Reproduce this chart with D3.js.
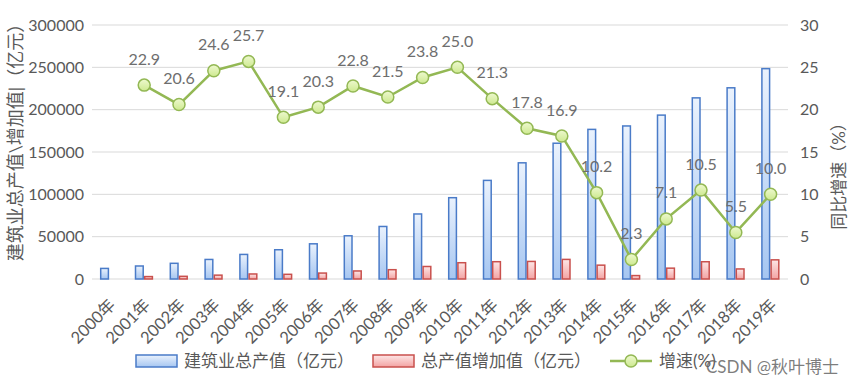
<!DOCTYPE html>
<html lang="zh">
<head>
<meta charset="UTF-8" />
<script src="https://d3js.org/d3.v7.min.js"></script>
<style>
  body { margin: 0; background: #fff; }
  text { font-family: Lato, "Noto Sans CJK SC", sans-serif; fill: #595959; }
</style>
</head>
<body>
<svg width="858" height="384"></svg>
<script>
const years = ["2000年","2001年","2002年","2003年","2004年","2005年","2006年","2007年","2008年","2009年",
  "2010年","2011年","2012年","2013年","2014年","2015年","2016年","2017年","2018年","2019年"];
const output = [12498,15362,18527,23084,29021,34552,41557,51044,62037,76808,
  96031,116463,137218,160366,176713,180757,193567,213944,225817,248443];
const increase = [null,2864,3165,4557,5937,5531,7005,9487,10993,14771,
  19223,20432,20755,23148,16347,4044,12810,20377,11873,22626];
const growth = [null,22.9,20.6,24.6,25.7,19.1,20.3,22.8,21.5,23.8,
  25.0,21.3,17.8,16.9,10.2,2.3,7.1,10.5,5.5,10.0];
const leftTicks = [0,50000,100000,150000,200000,250000,300000];
const rightTicks = [0,5,10,15,20,25,30];

const svg = d3.select("svg");
const pl = 92, pr = 788, pt = 25, pb = 279;

const x = d3.scaleBand().domain(years).range([pl, pr]);
const y = d3.scaleLinear().domain([0, 300000]).range([pb, pt]);
const y2 = d3.scaleLinear().domain([0, 30]).range([pb, pt]);
const bw = x.bandwidth() * 0.25;
const cx = d => x(d) + x.bandwidth() / 2;

const defs = svg.append("defs");
function grad(id, c1, c2) {
  const g = defs.append("linearGradient").attr("id", id)
    .attr("x1", 0).attr("y1", 0).attr("x2", 0).attr("y2", 1);
  g.append("stop").attr("offset", "0%").attr("stop-color", c1);
  g.append("stop").attr("offset", "100%").attr("stop-color", c2);
}
grad("gBlue", "#eaf2fd", "#a6c6f1");
grad("gRed", "#fde6e6", "#f3a3a3");
grad("gDot", "#eef9cf", "#cde98f");

// gridlines
svg.append("g").selectAll("line").data(leftTicks).join("line")
  .attr("x1", pl).attr("x2", pr)
  .attr("y1", d => y(d)).attr("y2", d => y(d))
  .attr("stroke", "#d9d9d9").attr("stroke-width", 1);

// left tick labels
svg.append("g").selectAll("text").data(leftTicks).join("text")
  .attr("x", 84).attr("y", d => y(d)).attr("dy", "0.35em")
  .attr("text-anchor", "end").attr("font-size", 16)
  .text(d => d);

// right tick labels
svg.append("g").selectAll("text").data(rightTicks).join("text")
  .attr("x", 800).attr("y", d => y2(d)).attr("dy", "0.35em")
  .attr("font-size", 16)
  .text(d => d);

// axis titles
svg.append("text")
  .attr("transform", "translate(16,138) rotate(-90)")
  .attr("text-anchor", "middle").attr("dy", "0.35em").attr("font-size", 18)
  .text("建筑业总产值\\增加值|（亿元）");
svg.append("text")
  .attr("transform", "translate(839,172) rotate(-90)")
  .attr("text-anchor", "middle").attr("dy", "0.35em").attr("font-size", 17)
  .text("同比增速（%）");

// bars
svg.append("g").selectAll("rect").data(years).join("rect")
  .attr("x", d => cx(d) - bw)
  .attr("y", (d, i) => y(output[i]))
  .attr("width", bw - 1)
  .attr("height", (d, i) => pb - y(output[i]))
  .attr("fill", "url(#gBlue)").attr("stroke", "#4a7bc8").attr("stroke-width", 1.5);

svg.append("g").selectAll("rect").data(years.filter((d, i) => increase[i] != null)).join("rect")
  .attr("x", d => cx(d) + 0.5)
  .attr("y", d => y(increase[years.indexOf(d)]))
  .attr("width", bw - 1)
  .attr("height", d => pb - y(increase[years.indexOf(d)]))
  .attr("fill", "url(#gRed)").attr("stroke", "#c9504d").attr("stroke-width", 1.5);

// growth line
const pts = years.map((d, i) => ({ year: d, v: growth[i] })).filter(p => p.v != null);
svg.append("path").datum(pts)
  .attr("fill", "none").attr("stroke", "#93b854").attr("stroke-width", 2.5)
  .attr("d", d3.line().x(p => cx(p.year)).y(p => y2(p.v)));
svg.append("g").selectAll("circle").data(pts).join("circle")
  .attr("cx", p => cx(p.year)).attr("cy", p => y2(p.v)).attr("r", 6)
  .attr("fill", "url(#gDot)").attr("stroke", "#93b854").attr("stroke-width", 1.5);
svg.append("g").selectAll("text").data(pts).join("text")
  .attr("x", p => cx(p.year)).attr("y", p => y2(p.v) - 26)
  .attr("dy", "0.35em").attr("text-anchor", "middle").attr("font-size", 16)
  .style("fill", "#6e6e6e")
  .text(p => p.v.toFixed(1));

// x labels
svg.append("g").selectAll("text").data(years).join("text")
  .attr("transform", d => `translate(${cx(d) + 3},${pb + 23}) rotate(-45)`)
  .attr("text-anchor", "end").attr("dy", "0.35em").attr("font-size", 16.5)
  .text(d => d);

// legend
const lg = svg.append("g");
lg.append("rect").attr("x", 136).attr("y", 355).attr("width", 41).attr("height", 12)
  .attr("fill", "url(#gBlue)").attr("stroke", "#4a7bc8").attr("stroke-width", 1.5);
lg.append("text").attr("x", 184).attr("y", 361).attr("dy", "0.35em").attr("font-size", 17)
  .text("建筑业总产值（亿元）");
lg.append("rect").attr("x", 373).attr("y", 355).attr("width", 41).attr("height", 12)
  .attr("fill", "url(#gRed)").attr("stroke", "#c9504d").attr("stroke-width", 1.5);
lg.append("text").attr("x", 421).attr("y", 361).attr("dy", "0.35em").attr("font-size", 17)
  .text("总产值增加值（亿元）");
lg.append("line").attr("x1", 610).attr("x2", 652).attr("y1", 361).attr("y2", 361)
  .attr("stroke", "#93b854").attr("stroke-width", 2.5);
lg.append("circle").attr("cx", 631).attr("cy", 361).attr("r", 6)
  .attr("fill", "url(#gDot)").attr("stroke", "#93b854").attr("stroke-width", 1.5);
lg.append("text").attr("x", 659).attr("y", 361).attr("dy", "0.35em").attr("font-size", 17)
  .text("增速(%)");
svg.append("text").attr("x", 706).attr("y", 367).attr("dy", "0.35em").attr("font-size", 17)
  .style("fill", "#666").style("fill-opacity", 0.85)
  .text("CSDN @秋叶博士");
</script>
</body>
</html>
